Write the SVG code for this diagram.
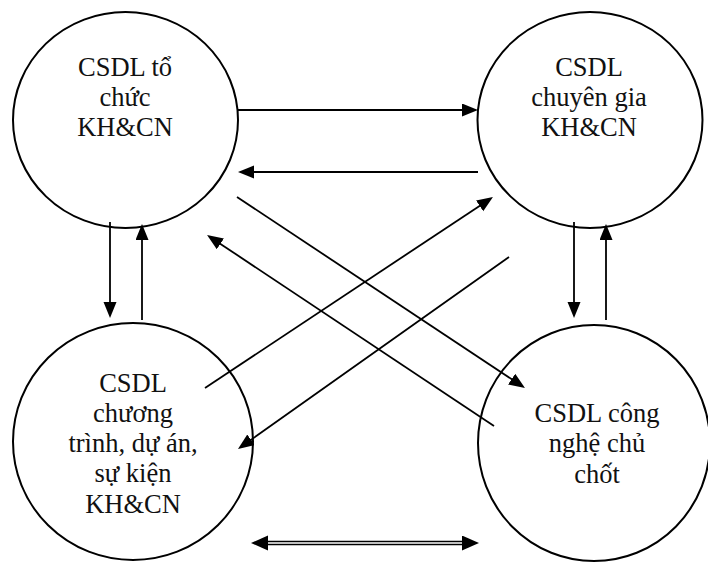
<svg xmlns="http://www.w3.org/2000/svg" width="708" height="562" viewBox="0 0 708 562">
<style>
.node{fill:#fff;stroke:#000;stroke-width:2}
.lbl{font-family:"Liberation Serif","Times New Roman",serif;font-size:26.5px;fill:#111;text-anchor:middle}
.ln{stroke:#000;stroke-width:1.8;fill:none}
.arr{marker-end:url(#ah)}
</style>
<defs>
<marker id="ah" markerUnits="userSpaceOnUse" markerWidth="18" markerHeight="14" refX="8" refY="6.5" orient="auto"><path d="M0,0 L16,6.5 L0,13 z" fill="#000"/></marker>
<marker id="ah2" markerUnits="userSpaceOnUse" markerWidth="18" markerHeight="16" refX="8" refY="7.5" orient="auto-start-reverse"><path d="M0,0 L17,7.5 L0,15 z" fill="#000"/></marker>
</defs>
<rect width="708" height="562" fill="#fff"/>
<g id="n-tochuc">
<ellipse class="node" cx="125.5" cy="120" rx="112.5" ry="108"/>
<text class="lbl" x="125" y="76">CSDL tổ</text>
<text class="lbl" x="125" y="106">chức</text>
<text class="lbl" x="125" y="136">KH&amp;CN</text>
</g>
<g id="n-chuyengia">
<ellipse class="node" cx="590" cy="120" rx="112.5" ry="108"/>
<text class="lbl" x="589" y="76">CSDL</text>
<text class="lbl" x="589" y="106">chuyên gia</text>
<text class="lbl" x="589" y="136">KH&amp;CN</text>
</g>
<g id="n-chuongtrinh">
<ellipse class="node" cx="133" cy="441.5" rx="120" ry="118.5"/>
<text class="lbl" x="133" y="392">CSDL</text>
<text class="lbl" x="133" y="422">chương</text>
<text class="lbl" x="133" y="452">trình, dự án,</text>
<text class="lbl" x="133" y="482">sự kiện</text>
<text class="lbl" x="133" y="513">KH&amp;CN</text>
</g>
<g id="n-congnghe">
<ellipse class="node" cx="594" cy="443" rx="116" ry="118"/>
<text class="lbl" x="597" y="422">CSDL công</text>
<text class="lbl" x="597" y="452">nghệ chủ</text>
<text class="lbl" x="597" y="483">chốt</text>
</g>
<g id="connectors">
<line class="ln arr" x1="238" y1="110" x2="470" y2="110"/>
<line class="ln arr" x1="478" y1="172" x2="246" y2="172"/>
<line class="ln arr" x1="110" y1="222" x2="110" y2="310"/>
<line class="ln arr" x1="142" y1="320" x2="142" y2="232"/>
<line class="ln arr" x1="574" y1="222" x2="574" y2="310"/>
<line class="ln arr" x1="606" y1="320" x2="606" y2="232"/>
<line class="ln arr" x1="237" y1="197" x2="518.3" y2="383.6"/>
<line class="ln arr" x1="494" y1="426" x2="213.7" y2="239.4"/>
<line class="ln arr" x1="205" y1="388" x2="486.3" y2="201.4"/>
<line class="ln arr" x1="509" y1="257" x2="244.5" y2="444.4"/>
<line x1="260" y1="543" x2="470" y2="543" stroke="#000" stroke-width="4.5" marker-start="url(#ah2)" marker-end="url(#ah2)"/>
<line x1="268" y1="543" x2="462" y2="543" stroke="#fff" stroke-width="1.3"/>
</g>
</svg>
